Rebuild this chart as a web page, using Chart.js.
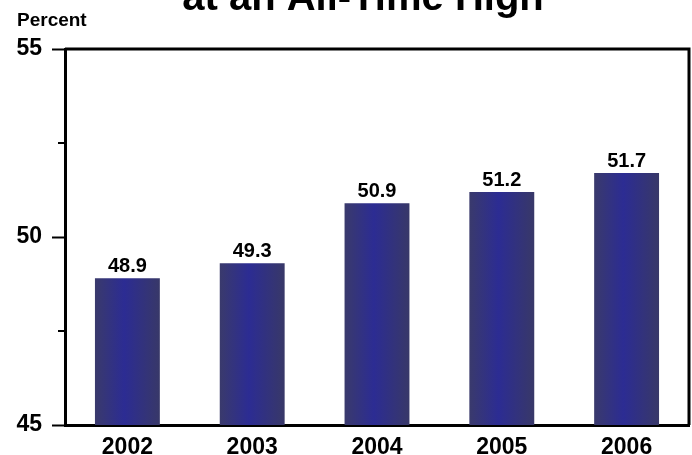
<!DOCTYPE html>
<html>
<head>
<meta charset="utf-8">
<script src="https://cdn.jsdelivr.net/npm/chart.js@4/dist/chart.umd.min.js"></script>
<style>
  html, body { margin: 0; padding: 0; background: #fff; }
  #wrap { width: 692px; height: 455px; position: relative; }
</style>
</head>
<body>
<div id="wrap"><canvas id="c" width="692" height="455"></canvas></div>
<script>
// Share of the population, by year
const years = ['2002', '2003', '2004', '2005', '2006'];
const percents = [48.9, 49.3, 50.9, 51.2, 51.7];
const yTicks = [45, 50, 55];
const minorTicks = [47.5, 52.5];
const titleText = 'at an All-Time High';
const unitText = 'Percent';

const FONT = '"Liberation Sans", Arial, Helvetica, sans-serif';

// Shaded bars: darker at the edges, brighter blue in the middle.
// Each bar gets its own options copy so the gradients are not shared.
const barShading = {
  id: 'barShading',
  beforeDatasetsDraw(chart) {
    const ctx = chart.ctx;
    chart.getDatasetMeta(0).data.forEach(bar => {
      const left = bar.x - bar.width / 2;
      const right = bar.x + bar.width / 2;
      const g = ctx.createLinearGradient(left, 0, right, 0);
      g.addColorStop(0, '#3a3a6c');
      g.addColorStop(0.45, '#2c2c93');
      g.addColorStop(1, '#383868');
      bar.options = Object.assign({}, bar.options, { backgroundColor: g });
    });
  }
};

// Frame, minor ticks, value labels and the heading texts
const decorations = {
  id: 'decorations',
  afterDraw(chart) {
    const ctx = chart.ctx;
    const a = chart.chartArea;
    const y = chart.scales.y;
    ctx.save();
    ctx.strokeStyle = '#000';
    ctx.lineWidth = 3;
    ctx.beginPath();
    ctx.moveTo(a.left, a.top);
    ctx.lineTo(a.right, a.top);
    ctx.lineTo(a.right, a.bottom);
    ctx.stroke();

    ctx.lineWidth = 2;
    minorTicks.forEach(v => {
      const py = Math.round(y.getPixelForValue(v));
      ctx.beginPath();
      ctx.moveTo(a.left - 7, py);
      ctx.lineTo(a.left, py);
      ctx.stroke();
    });

    ctx.fillStyle = '#000';
    ctx.textAlign = 'center';
    ctx.textBaseline = 'alphabetic';
    ctx.font = 'bold 20px ' + FONT;
    chart.getDatasetMeta(0).data.forEach((bar, i) => {
      ctx.fillText(percents[i].toFixed(1), bar.x, bar.y - 6);
    });

    ctx.font = 'bold 40px ' + FONT;
    ctx.fillText(titleText, 363, 10);

    ctx.textAlign = 'left';
    ctx.font = 'bold 19px ' + FONT;
    ctx.fillText(unitText, 17, 26);
    ctx.restore();
  }
};

new Chart(document.getElementById('c'), {
  type: 'bar',
  data: {
    labels: years,
    datasets: [{
      data: percents,
      backgroundColor: '#2e2e85',
      borderWidth: 0,
      barPercentage: 0.52,
      categoryPercentage: 1
    }]
  },
  options: {
    responsive: false,
    animation: false,
    events: [],
    layout: { padding: { top: 49, right: 3, left: 0, bottom: 0 } },
    plugins: { legend: { display: false }, tooltip: { enabled: false }, title: { display: false } },
    scales: {
      x: {
        grid: { display: false, drawTicks: false },
        border: { display: true, color: '#000', width: 3 },
        ticks: { color: '#000', padding: 9, font: { family: FONT, size: 23, weight: 'bold' } },
        afterFit(s) { s.height = 30; }
      },
      y: {
        min: 45,
        max: 55,
        afterBuildTicks(s) { s.ticks = yTicks.map(v => ({ value: v })); },
        grid: { drawOnChartArea: false, drawTicks: true, tickLength: 13, tickWidth: 2, tickColor: '#000' },
        border: { display: true, color: '#000', width: 3 },
        ticks: { color: '#000', padding: 10, font: { family: FONT, size: 23, weight: 'bold' } },
        afterFit(s) { s.width = 65; }
      }
    }
  },
  plugins: [barShading, decorations]
});
</script>
</body>
</html>
